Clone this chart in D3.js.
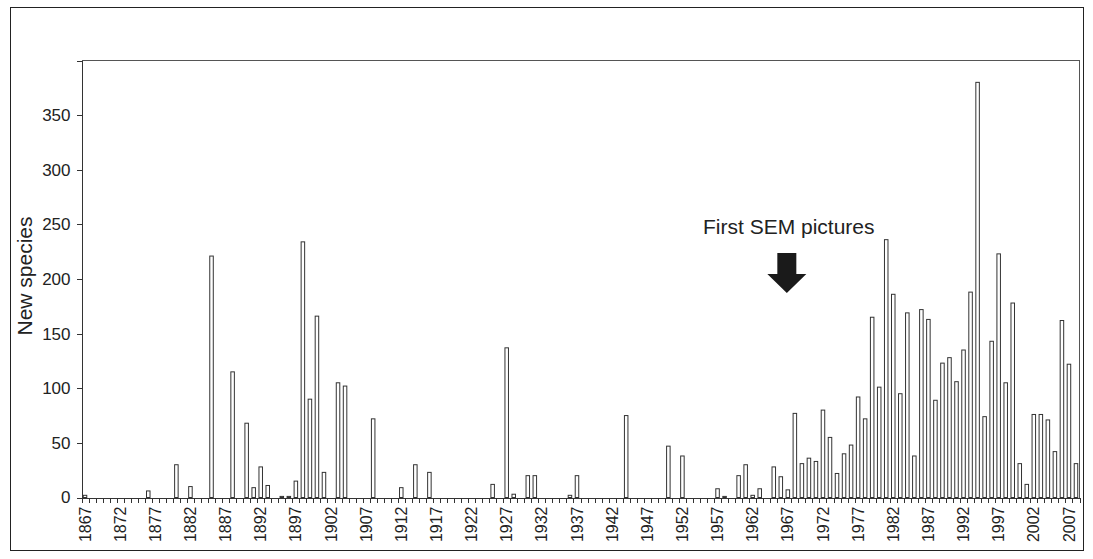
<!DOCTYPE html>
<html>
<head>
<meta charset="utf-8">
<script src="https://cdn.jsdelivr.net/npm/d3@7"></script>
<style>
  html, body { margin: 0; padding: 0; background: #fff; }
  svg { display: block; font-family: "Liberation Sans", Arial, Helvetica, sans-serif; }
  .axis path, .axis line { stroke: #333; shape-rendering: crispEdges; }
  .axis text { fill: #222; }
</style>
</head>
<body>
<div id="chart"></div>
<script>
// first and last year on the axis
var firstYear = 1867,
  lastYear = 2008;

// new species described per year, 1867 .. 2008
var newSpecies = [
  2, 0, 0, 0, 0, 0, 0, 0, 0, 6,         // 1867-1876
  0, 0, 0, 30, 0, 10, 0, 0, 221, 0,      // 1877-1886
  0, 115, 0, 68, 9, 28, 11, 0, 1, 1,     // 1887-1896
  15, 234, 90, 166, 23, 0, 105, 102, 0, 0, // 1897-1906
  0, 72, 0, 0, 0, 9, 0, 30, 0, 23,       // 1907-1916
  0, 0, 0, 0, 0, 0, 0, 0, 12, 0,         // 1917-1926
  137, 3, 0, 20, 20, 0, 0, 0, 0, 2,      // 1927-1936
  20, 0, 0, 0, 0, 0, 0, 75, 0, 0,        // 1937-1946
  0, 0, 0, 47, 0, 38, 0, 0, 0, 0,        // 1947-1956
  8, 1, 0, 20, 30, 2, 8, 0, 28, 19,      // 1957-1966
  7, 77, 31, 36, 33, 80, 55, 22, 40, 48, // 1967-1976
  92, 72, 165, 101, 236, 186, 95, 169, 38, 172, // 1977-1986
  163, 89, 123, 128, 106, 135, 188, 380, 74, 143, // 1987-1996
  223, 105, 178, 31, 12, 76, 76, 71, 42, 162,     // 1997-2006
  122, 31                                          // 2007-2008
];

var yTicks = [0, 50, 100, 150, 200, 250, 300, 350, 400];
var yLabels = [0, 50, 100, 150, 200, 250, 300, 350];
var labelEvery = 5;

var yTitle = 'New species',
  noteText = 'First SEM pictures',
  noteYear = 1967;

var years = d3.range(firstYear, lastYear + 1);

var width = 1093,
  height = 559,
  plot = {left: 81.5, right: 1079.5, top: 60.5, bottom: 497.5};

var svg = d3.select('#chart').append('svg')
  .attr('width', width)
  .attr('height', height);

// outer frame
svg.append('rect')
  .attr('x', 10.5)
  .attr('y', 7.5)
  .attr('width', 1073)
  .attr('height', 543)
  .attr('fill', 'none')
  .attr('stroke', '#222')
  .attr('stroke-width', 1);

var x = d3.scaleBand()
  .domain(years)
  .range([plot.left, plot.right])
  .paddingInner(0.5)
  .paddingOuter(0.25);

// year boundaries for the small ticks
var xEdge = d3.scaleLinear()
  .domain([0, years.length])
  .range([plot.left, plot.right]);

var y = d3.scaleLinear()
  .domain([0, 400])
  .range([plot.bottom, plot.top]);

// plot box (top and right)
svg.append('path')
  .attr('d', 'M' + plot.left + ',' + plot.top + 'H' + plot.right + 'V' + plot.bottom)
  .attr('fill', 'none')
  .attr('stroke', '#555')
  .attr('shape-rendering', 'crispEdges');

// bars
svg.append('g')
  .selectAll('rect')
  .data(newSpecies)
  .enter().append('rect')
  .attr('x', function (d, i) { return x(years[i]); })
  .attr('y', function (d) { return y(d); })
  .attr('width', x.bandwidth())
  .attr('height', function (d) { return y(0) - y(d); })
  .attr('fill', '#fff')
  .attr('stroke', '#333')
  .attr('stroke-width', 1);

// y axis
var yAxis = svg.append('g')
  .attr('class', 'axis')
  .attr('transform', 'translate(' + plot.left + ',0)')
  .call(d3.axisLeft(y)
    .tickValues(yTicks)
    .tickSize(5)
    .tickPadding(6)
    .tickFormat(function (d) { return yLabels.indexOf(d) > -1 ? d : ''; }));

yAxis.selectAll('text')
  .style('font-size', '17px');

// x axis: a tick at every year boundary
svg.append('g')
  .attr('class', 'axis')
  .attr('transform', 'translate(0,' + plot.bottom + ')')
  .call(d3.axisBottom(xEdge)
    .tickValues(d3.range(years.length + 1))
    .tickSize(5)
    .tickFormat(''));

// x labels every 5 years, rotated
var xLab = svg.append('g')
  .attr('class', 'axis')
  .attr('transform', 'translate(0,' + plot.bottom + ')')
  .call(d3.axisBottom(x)
    .tickValues(years.filter(function (d) { return (d - firstYear) % labelEvery === 0; }))
    .tickSize(0)
    .tickFormat(function (d) { return d; }));

xLab.select('.domain').remove();

xLab.selectAll('text')
  .attr('transform', 'rotate(-90)')
  .attr('x', -9)
  .attr('y', 0)
  .attr('dy', '0.35em')
  .style('text-anchor', 'end')
  .style('font-size', '16px');

// y title
svg.append('text')
  .attr('transform', 'translate(32,' + ((plot.top + plot.bottom) / 2 - 3) + ') rotate(-90)')
  .style('text-anchor', 'middle')
  .style('font-size', '21px')
  .attr('fill', '#222')
  .text(yTitle);

// annotation
var ax = x(noteYear) + x.bandwidth() / 2 - 1;

svg.append('text')
  .attr('x', 703)
  .attr('y', 234)
  .style('font-size', '21px')
  .attr('fill', '#222')
  .text(noteText);

svg.append('path')
  .attr('d', 'M' + (ax - 9.5) + ',253 H' + (ax + 9.5) + ' V274 H' + (ax + 19.5) +
    ' L' + ax + ',293 L' + (ax - 19.5) + ',274 H' + (ax - 9.5) + 'Z')
  .attr('fill', '#1a1a1a');
</script>
</body>
</html>
